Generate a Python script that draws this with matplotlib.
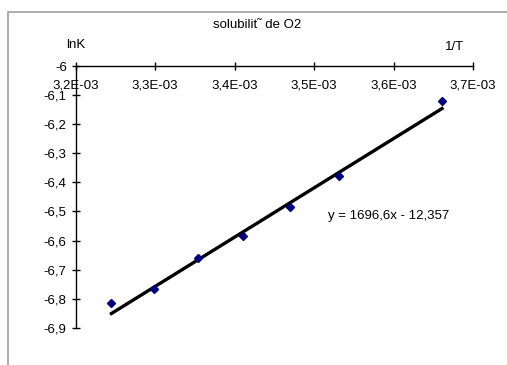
import numpy as np
import matplotlib
matplotlib.use("Agg")
import matplotlib.pyplot as plt
from matplotlib.ticker import FuncFormatter, MultipleLocator
from matplotlib.patches import Rectangle

plt.rcParams['font.family'] = ['Liberation Sans', 'DejaVu Sans']

# data
inv_T = [3.2452e-3, 3.2987e-3, 3.3540e-3, 3.4112e-3, 3.4704e-3, 3.5317e-3, 3.6610e-3]
lnK = [-6.814, -6.767, -6.660, -6.585, -6.486, -6.377, -6.119]
slope = 1696.6
intercept = -12.357

title = "solubilit\u02dc de O2"
ylab = "lnK"
xlab = "1/T"

fig = plt.figure(figsize=(5.07, 3.65), dpi=100)
# outer chart frame (grey)
fig.patches.append(Rectangle((8 / 507, -0.1), 1.2, 1 - 11.5 / 365 + 0.1,
                             transform=fig.transFigure, fill=False,
                             edgecolor='#a0a0a0', lw=1.2))

ax = fig.add_axes([75.5 / 507, 1 - 327.7 / 365, (473 - 75.5) / 507, (327.7 - 66.2) / 365])

ax.plot(inv_T, lnK, linestyle='none', marker='D', markersize=4,
        color='#000080', zorder=3)

xl = np.array([inv_T[0], inv_T[-1]])
ax.plot(xl, slope * xl + intercept, color='black', lw=2.4, zorder=2)

ax.set_xlim(3.2e-3, 3.7e-3)
ax.set_ylim(-6.9, -6.0)
ax.xaxis.set_major_locator(MultipleLocator(1e-4))
ax.yaxis.set_major_locator(MultipleLocator(0.1))

ax.xaxis.set_major_formatter(FuncFormatter(lambda v, p: f"{v:.1E}".replace('.', ',')))
ax.yaxis.set_major_formatter(FuncFormatter(lambda v, p: f"{round(v, 1):g}".replace('.', ',')))

ax.spines['top'].set_visible(False)
ax.spines['right'].set_visible(False)
ax.spines['bottom'].set_position(('data', -6.0))
for s in ['left', 'bottom']:
    ax.spines[s].set_linewidth(1.0)

ax.tick_params(direction='inout', length=6, width=1.0, labelsize=9.5)
ax.tick_params(axis='x', pad=6.5)
ax.tick_params(axis='y', pad=3.3)

fig.text(257 / 507, 1 - 25 / 365, title, ha='center', va='center', fontsize=9.5)
fig.text(76 / 507, 1 - 45 / 365, ylab, ha='center', va='center', fontsize=9.5)
fig.text(455 / 507, 1 - 47.5 / 365, xlab, ha='center', va='center', fontsize=9.5)
fig.text(389 / 507, 1 - 216.5 / 365, f"y = {slope:g}x - {abs(intercept):g}".replace('.', ','),
         ha='center', va='center', fontsize=9.5)

fig.savefig("out.png", dpi=100)
